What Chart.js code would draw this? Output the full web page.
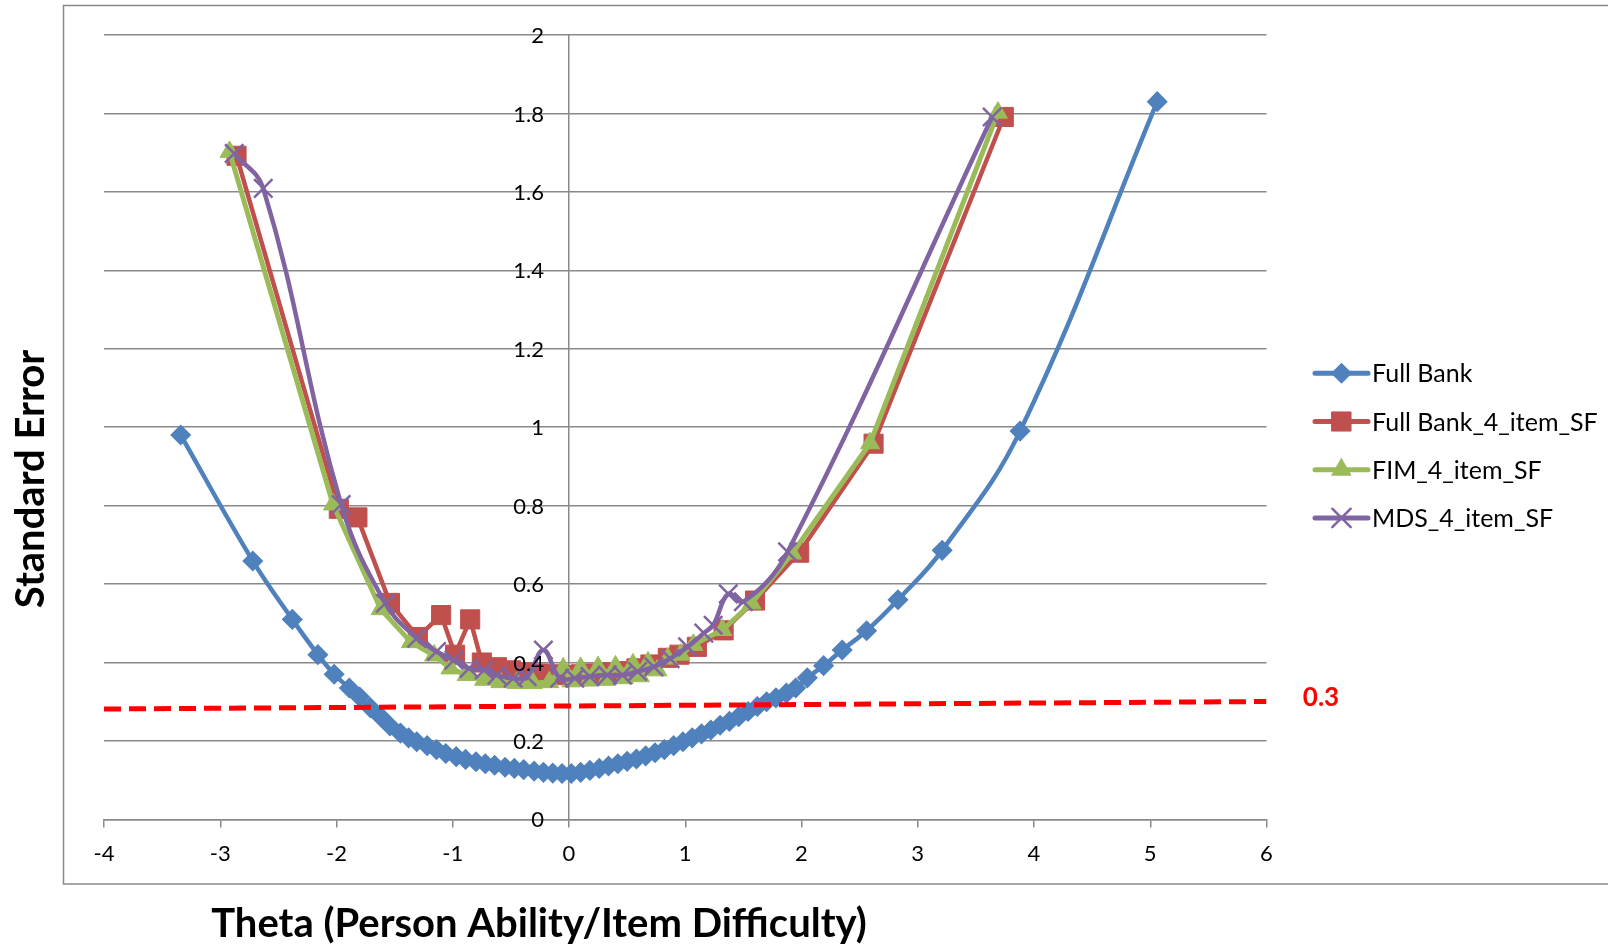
<!DOCTYPE html>
<html>
<head>
<meta charset="utf-8">
<script src="https://cdn.jsdelivr.net/npm/chart.js@4.4.1/dist/chart.umd.min.js"></script>
<style>
  html, body { margin: 0; padding: 0; background: #fff; overflow: hidden; }
  canvas { display: block; }
</style>
</head>
<body>
<canvas id="chart" width="1608" height="949"></canvas>
<script>
// ---- data ----
const seriesNames = ['Full Bank', 'Full Bank_4_item_SF', 'FIM_4_item_SF', 'MDS_4_item_SF'];

const fullBankTheta = [-3.34, -2.72, -2.38, -2.16, -2.02, -1.89, -1.80, -1.71, -1.62, -1.54, -1.45, -1.38, -1.31,
  -1.22, -1.14, -1.06, -0.97, -0.89, -0.80, -0.72, -0.64, -0.55, -0.47, -0.39, -0.30, -0.22, -0.14, -0.06,
  0.02, 0.10, 0.18, 0.26, 0.34, 0.42, 0.50, 0.58, 0.66, 0.74, 0.82, 0.90, 0.98, 1.06, 1.14, 1.22, 1.30,
  1.38, 1.46, 1.54, 1.62, 1.70, 1.78, 1.87, 1.95, 2.05, 2.19, 2.35, 2.56, 2.83, 3.21, 3.88, 5.06];
const fullBankSE = [0.980, 0.659, 0.510, 0.420, 0.370, 0.335, 0.312, 0.285, 0.262, 0.238, 0.220, 0.208, 0.198,
  0.188, 0.178, 0.168, 0.160, 0.153, 0.147, 0.142, 0.138, 0.133, 0.130, 0.127, 0.123, 0.120, 0.118, 0.117,
  0.117, 0.120, 0.125, 0.130, 0.136, 0.142, 0.148, 0.154, 0.162, 0.170, 0.178, 0.188, 0.198, 0.208, 0.218,
  0.228, 0.240, 0.250, 0.262, 0.275, 0.288, 0.300, 0.310, 0.322, 0.335, 0.361, 0.392, 0.432, 0.481, 0.560,
  0.686, 0.990, 1.830];

const fullBankSFTheta = [-2.86, -1.98, -1.82, -1.54, -1.30, -1.10, -0.98, -0.85, -0.75, -0.62, -0.50, -0.38,
  -0.26, -0.14, -0.02, 0.10, 0.22, 0.34, 0.46, 0.58, 0.70, 0.85, 0.95, 1.10, 1.33, 1.60, 1.98, 2.62, 3.74];
const fullBankSFSE = [1.692, 0.792, 0.770, 0.552, 0.465, 0.521, 0.420, 0.510, 0.400, 0.388, 0.380, 0.375,
  0.372, 0.370, 0.368, 0.370, 0.372, 0.375, 0.378, 0.385, 0.395, 0.412, 0.420, 0.440, 0.482, 0.558, 0.680,
  0.958, 1.791];

const fimSFTheta = [-2.92, -2.03, -1.62, -1.36, -1.16, -1.02, -0.88, -0.73, -0.59, -0.45, -0.31, -0.17, -0.05,
  0.02, 0.10, 0.17, 0.25, 0.32, 0.40, 0.47, 0.55, 0.61, 0.68, 0.76, 0.85, 0.96, 1.07, 1.32, 1.57, 1.92, 2.59, 3.69];
const fimSFSE = [1.702, 0.803, 0.536, 0.452, 0.418, 0.385, 0.368, 0.356, 0.350, 0.348, 0.348, 0.350, 0.385,
  0.352, 0.386, 0.354, 0.388, 0.356, 0.390, 0.360, 0.395, 0.365, 0.400, 0.380, 0.410, 0.420, 0.445, 0.483,
  0.551, 0.678, 0.959, 1.802];

const mdsSFTheta = [-2.88, -2.63, -1.96, -1.58, -1.31, -1.14, -0.99, -0.86, -0.73, -0.62, -0.48, -0.36, -0.22,
  -0.08, 0.05, 0.18, 0.33, 0.46, 0.59, 0.73, 0.87, 1.02, 1.16, 1.24, 1.37, 1.50, 1.88, 3.64];
const mdsSFSE = [1.698, 1.609, 0.803, 0.551, 0.462, 0.428, 0.406, 0.385, 0.381, 0.368, 0.360, 0.364, 0.432,
  0.360, 0.360, 0.364, 0.368, 0.368, 0.377, 0.389, 0.410, 0.440, 0.475, 0.495, 0.575, 0.555, 0.682, 1.791];

const cutoffTheta = [-4, 6];
const cutoffSE = [0.2815, 0.3005];
const cutoffLabel = '0.3';

const xTickValues = [-4, -3, -2, -1, 0, 1, 2, 3, 4, 5, 6];
const yTickLabels = ['0', '0.2', '0.4', '0.6', '0.8', '1', '1.2', '1.4', '1.6', '1.8', '2'];
const xTitle = 'Theta (Person Ability/Item Difficulty)';
const yTitle = 'Standard Error';

// ---- helpers ----
const pairs = (xs, ys) => xs.map((x, i) => ({ x, y: ys[i] }));
const FONT = 'Lato, "Open Sans", "Liberation Sans", sans-serif';
const GRID = '#898989';
const COLORS = ['#4F81BD', '#C0504D', '#9BBB59', '#8064A2'];

const markers = [
  { style: 'rectRot', radius: 9.5, width: 1.5 },
  { style: 'rect', radius: 13.5, width: 1 },
  { style: 'triangle', radius: 11, width: 1 },
  { style: 'crossRot', radius: 13, width: 2.5 }
];
const lineWidths = [4.5, 4.5, 5, 4.5];
const tensions = [0.4, 0, 0, 0.4];

function drawMarker(ctx, m, x, y, color) {
  const r = m.radius;
  ctx.save();
  ctx.fillStyle = color;
  ctx.strokeStyle = color;
  ctx.lineWidth = m.width;
  ctx.beginPath();
  if (m.style === 'rectRot') {
    ctx.moveTo(x - r, y); ctx.lineTo(x, y - r); ctx.lineTo(x + r, y); ctx.lineTo(x, y + r);
    ctx.closePath(); ctx.fill(); ctx.stroke();
  } else if (m.style === 'rect') {
    const s = r * Math.SQRT1_2;
    ctx.rect(x - s, y - s, 2 * s, 2 * s); ctx.fill(); ctx.stroke();
  } else if (m.style === 'triangle') {
    for (let k = 0; k < 3; k++) {
      const a = k * 2 * Math.PI / 3;
      const px = x + Math.sin(a) * r, py = y - Math.cos(a) * r;
      if (k === 0) ctx.moveTo(px, py); else ctx.lineTo(px, py);
    }
    ctx.closePath(); ctx.fill(); ctx.stroke();
  } else if (m.style === 'crossRot') {
    const s = r * Math.SQRT1_2;
    ctx.moveTo(x - s, y - s); ctx.lineTo(x + s, y + s);
    ctx.moveTo(x + s, y - s); ctx.lineTo(x - s, y + s);
    ctx.stroke();
  }
  ctx.restore();
}

function seriesDataset(i, xs, ys) {
  return {
    label: seriesNames[i],
    data: pairs(xs, ys),
    borderColor: COLORS[i],
    backgroundColor: COLORS[i],
    borderWidth: lineWidths[i],
    pointStyle: markers[i].style,
    pointRadius: markers[i].radius,
    pointBorderWidth: markers[i].width,
    pointBackgroundColor: COLORS[i],
    pointBorderColor: COLORS[i],
    tension: tensions[i],
    fill: false,
    order: 4 - i
  };
}

// frame, axis titles, value labels of the y axis, legend and cut-off label
const decorations = {
  id: 'decorations',
  beforeDraw(chart) {
    const ctx = chart.ctx;
    ctx.save();
    ctx.fillStyle = '#fff';
    ctx.fillRect(0, 0, chart.width, chart.height);
    ctx.strokeStyle = GRID;
    ctx.lineWidth = 1.5;
    ctx.beginPath();
    ctx.moveTo(chart.width + 5, 5.5);
    ctx.lineTo(63.5, 5.5);
    ctx.lineTo(63.5, 884);
    ctx.lineTo(chart.width + 5, 884);
    ctx.stroke();
    ctx.restore();
  },
  afterDatasetsDraw(chart) {
    // y tick labels sit left of the vertical axis drawn at theta = 0
    const ctx = chart.ctx;
    const ys = chart.scales.y;
    const axisX = chart.scales.x.getPixelForValue(0);
    ctx.save();
    ctx.fillStyle = '#000';
    ctx.font = '22px ' + FONT;
    ctx.textAlign = 'right';
    ctx.textBaseline = 'middle';
    yTickLabels.forEach((t) => {
      ctx.fillText(t, axisX - 25, ys.getPixelForValue(parseFloat(t)) + 1);
    });
    ctx.restore();
  },
  afterDraw(chart) {
    const ctx = chart.ctx;
    ctx.save();
    ctx.fillStyle = '#000';
    ctx.font = 'bold 40px ' + FONT;
    ctx.textAlign = 'center';
    ctx.textBaseline = 'middle';
    ctx.fillText(xTitle, 539, 924);
    ctx.translate(31, 479);
    ctx.rotate(-Math.PI / 2);
    ctx.fillText(yTitle, 0, 0);
    ctx.restore();

    // legend
    const rows = [373.3, 421.5, 469.7, 517.9];
    ctx.save();
    ctx.font = '25px ' + FONT;
    ctx.textAlign = 'left';
    ctx.textBaseline = 'middle';
    seriesNames.forEach((name, i) => {
      const y = rows[i];
      ctx.strokeStyle = COLORS[i];
      ctx.lineWidth = 5;
      ctx.lineCap = 'round';
      ctx.beginPath();
      ctx.moveTo(1315, y);
      ctx.lineTo(1368, y);
      ctx.stroke();
      drawMarker(ctx, markers[i], 1341.5, y, COLORS[i]);
      ctx.fillStyle = '#000';
      ctx.fillText(name, 1372, y + 1);
    });
    ctx.restore();

    // cut-off value label
    ctx.save();
    ctx.fillStyle = '#FF0000';
    ctx.font = 'bold 26px ' + FONT;
    ctx.textAlign = 'center';
    ctx.textBaseline = 'middle';
    ctx.fillText(cutoffLabel, 1321, 698);
    ctx.restore();
  }
};

new Chart(document.getElementById('chart'), {
  type: 'line',
  data: {
    datasets: [
      seriesDataset(0, fullBankTheta, fullBankSE),
      seriesDataset(1, fullBankSFTheta, fullBankSFSE),
      seriesDataset(2, fimSFTheta, fimSFSE),
      seriesDataset(3, mdsSFTheta, mdsSFSE),
      {
        label: 'cutoff',
        data: pairs(cutoffTheta, cutoffSE),
        borderColor: '#FF0000',
        borderWidth: 5,
        borderDash: [17, 8],
        pointRadius: 0,
        fill: false,
        order: 0
      }
    ]
  },
  options: {
    responsive: false,
    animation: false,
    devicePixelRatio: 1,
    layout: { padding: { left: 104, right: 341.5, top: 35, bottom: 0 } },
    plugins: { legend: { display: false }, tooltip: { enabled: false } },
    scales: {
      x: {
        type: 'linear',
        position: 'bottom',
        min: -4,
        max: 6,
        afterBuildTicks: (scale) => { scale.ticks = xTickValues.map(v => ({ value: v })); },
        ticks: {
          font: { family: FONT, size: 22 },
          color: '#000',
          padding: 13,
          maxRotation: 0,
          callback: (v) => String(v)
        },
        grid: { drawOnChartArea: false, drawTicks: true, tickLength: 8, color: GRID, lineWidth: 1.5 },
        border: { color: GRID, width: 1.5 },
        afterFit: (scale) => { scale.height = 129.6; }
      },
      y: {
        type: 'linear',
        position: { x: 0 },
        min: 0,
        max: 2,
        afterBuildTicks: (scale) => { scale.ticks = yTickLabels.map(t => ({ value: parseFloat(t) })); },
        ticks: { display: false },
        grid: { drawTicks: false, color: GRID, lineWidth: 1.5 },
        border: { color: GRID, width: 1.5 }
      }
    }
  },
  plugins: [decorations]
});
</script>
</body>
</html>
